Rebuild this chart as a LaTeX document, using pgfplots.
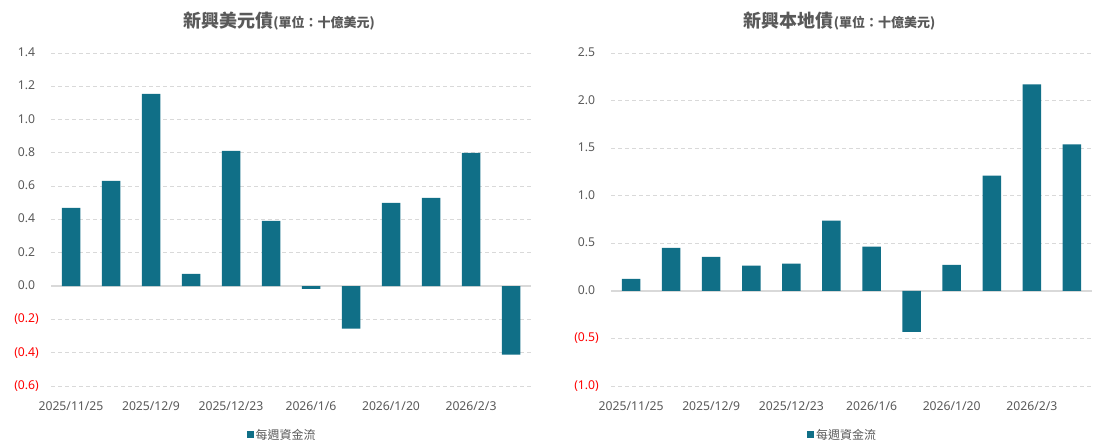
\documentclass[border=0pt]{standalone}
\usepackage{pgfplots}
\pgfplotsset{compat=1.18}
\usepackage{fontspec}
\setmainfont{Noto Sans}
\newfontfamily\cjk{Noto Sans CJK TC}
\definecolor{barc}{HTML}{106F87}
\definecolor{txt}{HTML}{595959}
\definecolor{grd}{HTML}{D9D9D9}
\definecolor{negred}{HTML}{FF0000}
\pgfplotsset{
 mystyle/.style={
  scale only axis, height=333bp,
  xmin=-0.5, xmax=11.5,
  axis line style={draw=none},
  tick style={draw=none},
  ymajorgrids, grid style={grd, dash pattern=on 4bp off 3bp, line width=0.9bp},
  extra y ticks={0}, extra y tick labels={},
  extra y tick style={grid style={solid, grd, line width=1.3bp}},
  xtick={0,2,4,6,8,10},
  xticklabels={2025/11/25,2025/12/9,2025/12/23,2026/1/6,2026/1/20,2026/2/3},
  ticklabel style={font=\fontsize{12.2bp}{14bp}\selectfont, text=txt},
  xticklabel style={anchor=north, inner sep=0pt, yshift=-11.5bp},
  yticklabel style={anchor=east, inner sep=0pt, xshift=-12bp},
  ybar, bar width=18.5bp,
  legend style={draw=none, fill=none, at={(0.5,-0.147)}, anchor=center, xshift=-9bp, font=\cjk\fontsize{12bp}{14bp}\selectfont, text=txt},
  legend image code/.code={\fill[barc] (0bp,-3.5bp) rectangle (7bp,3.5bp);},
  title style={at={(0.5,1)}, anchor=center, yshift=25.5bp, xshift=-12bp, text=txt},
 }
}
\begin{document}
\begin{tikzpicture}
\path[use as bounding box] (0,0) rectangle (1102bp,445bp);
\begin{axis}[mystyle, at={(51bp,59bp)}, anchor=south west, width=480bp,
  ymin=-0.6, ymax=1.4,
  ytick={-0.6,-0.4,-0.2,0,0.2,0.4,0.6,0.8,1.0,1.2,1.4},
  yticklabels={\textcolor{negred}{(0.6)},\textcolor{negred}{(0.4)},\textcolor{negred}{(0.2)},0.0\phantom{)},0.2\phantom{)},0.4\phantom{)},0.6\phantom{)},0.8\phantom{)},1.0\phantom{)},1.2\phantom{)},1.4\phantom{)}},
  title={{\cjk\bfseries\fontsize{18bp}{20bp}\selectfont 新興美元債}{\cjk\bfseries\fontsize{13bp}{15bp}\selectfont (單位：十億美元)}}]
\addplot[fill=barc, draw=none] coordinates {
(0,0.470) (1,0.632) (2,1.154) (3,0.074) (4,0.812) (5,0.392)
(6,-0.016) (7,-0.256) (8,0.500) (9,0.530) (10,0.800) (11,-0.412)};
\addlegendentry{每週資金流}
\end{axis}
\begin{axis}[mystyle, at={(611bp,59bp)}, anchor=south west, width=481bp,
  ymin=-1, ymax=2.5,
  ytick={-1,-0.5,0,0.5,1,1.5,2,2.5},
  yticklabels={\textcolor{negred}{(1.0)},\textcolor{negred}{(0.5)},0.0\phantom{)},0.5\phantom{)},1.0\phantom{)},1.5\phantom{)},2.0\phantom{)},2.5\phantom{)}},
  title={{\cjk\bfseries\fontsize{18bp}{20bp}\selectfont 新興本地債}{\cjk\bfseries\fontsize{13bp}{15bp}\selectfont (單位：十億美元)}}]
\addplot[fill=barc, draw=none] coordinates {
(0,0.126) (1,0.453) (2,0.358) (3,0.264) (4,0.285) (5,0.738)
(6,0.464) (7,-0.432) (8,0.274) (9,1.212) (10,2.171) (11,1.539)};
\addlegendentry{每週資金流}
\end{axis}
\end{tikzpicture}
\end{document}
